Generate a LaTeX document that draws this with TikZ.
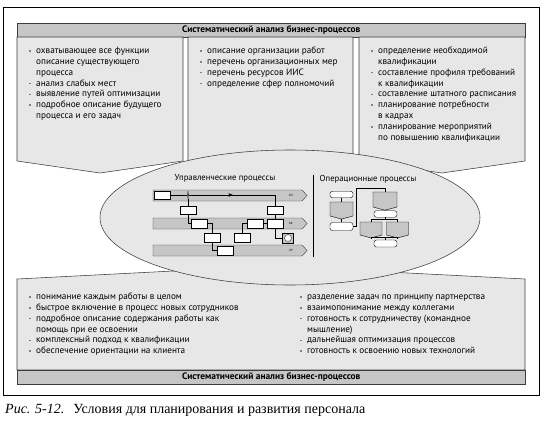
\documentclass[tikz,border=0pt]{standalone}
\usepackage{fontspec}
\setmainfont{PT Sans}
\newfontfamily\capfont{Liberation Serif}
\usepackage{xcolor}
\definecolor{colorBox}{RGB}{230,231,230}
\definecolor{colorBar}{RGB}{198,198,198}
\definecolor{colorLine}{RGB}{60,60,60}
\definecolor{colorBullet}{RGB}{130,130,130}
\usetikzlibrary{arrows, positioning, shapes.geometric, shapes.symbols, decorations.markings}
\newcommand{\bul}{\makebox[7pt][l]{\textcolor{colorBullet}{\rule[1.7pt]{1.7pt}{1.7pt}}}}
\newcommand{\ind}{\hspace*{7pt}}

\begin{document}
\begin{tikzpicture}[x=1pt, y=-1pt, >=stealth',
  panel/.style={draw=colorLine, fill=colorBox, line width=0.55pt},
  bar/.style={draw=colorLine, fill=colorBar, line width=0.55pt, inner sep=0pt, anchor=north west, font=\bfseries\fontsize{9.4}{10}\selectfont},
  coltext/.style={anchor=north west, inner sep=0pt, align=left, font=\fontsize{9.2}{10.9}\selectfont},
  title/.style={inner sep=0pt, font=\fontsize{8.7}{10}\selectfont},
  fbox/.style={draw=black, fill=white, line width=0.4pt, minimum width=16pt, minimum height=8.5pt, inner sep=0pt},
  term/.style={draw=black, fill=white, line width=0.4pt, rounded corners=2.5pt, minimum width=23pt, minimum height=6.5pt, inner sep=0pt},
  gbox/.style={signal, signal to=south, signal pointer angle=150, draw=black, fill=colorBar, line width=0.4pt, minimum width=23pt, minimum height=14pt, inner sep=0pt},
  flow/.style={line width=0.5pt},
  lanetext/.style={inner sep=0pt, font=\fontsize{3}{3}\selectfont}
]
\useasboundingbox (0,0) rectangle (545,425);
\draw[line width=0.8pt] (3,7.5) rectangle (539,395);

% top panels
\node[bar, minimum width=508pt, minimum height=14pt] (hdrTop) at (17,23) {Систематический анализ бизнес-процессов};
\draw[panel] (17,37) -- (183,37) -- (183,161) -- (100,173) -- (17,161) -- cycle;
\draw[panel] (188,37) -- (353,37) -- (353,161) -- (270,173) -- (188,161) -- cycle;
\draw[panel] (359,37) -- (525,37) -- (525,161) -- (442,173) -- (359,161) -- cycle;
\node[coltext] (txtA) at (29,45.5) {\strut\bul охватывающее все функции\\
  \ind описание существующего\\
  \ind процесса\\
  \bul анализ слабых мест\\
  \bul выявление путей оптимизации\\
  \bul подробное описание будущего\\
  \ind процесса и его задач};
\node[coltext] (txtB) at (200,45.5) {\strut\bul описание организации работ\\
  \bul перечень организационных мер\\
  \bul перечень ресурсов ИИС\\
  \bul определение сфер полномочий};
\node[coltext] (txtC) at (371,45.5) {\strut\bul определение необходимой\\
  \ind квалификации\\
  \bul составление профиля требований\\
  \ind к квалификации\\
  \bul составление штатного расписания\\
  \bul планирование потребности\\
  \ind в кадрах\\
  \bul планирование мероприятий\\
  \ind по повышению квалификации};

% bottom panel
\draw[panel] (17,279) -- (271,266) -- (525,279) -- (525,370) -- (17,370) -- cycle;
\node[bar, minimum width=508pt, minimum height=14pt] (hdrBot) at (17,370) {Систематический анализ бизнес-процессов};
\node[coltext] (txtD) at (29,291.5) {\strut\bul понимание каждым работы в целом\\
  \bul быстрое включение в процесс новых сотрудников\\
  \bul подробное описание содержания работы как\\
  \ind помощь при ее освоении\\
  \bul комплексный подход к квалификации\\
  \bul обеспечение ориентации на клиента};
\node[coltext] (txtE) at (300,291.5) {\strut\bul разделение задач по принципу партнерства\\
  \bul взаимопонимание между коллегами\\
  \bul готовность к сотрудничеству (командное\\
  \ind мышление)\\
  \bul дальнейшая оптимизация процессов\\
  \bul готовность к освоению новых технологий};

% processes
\node[ellipse, panel, minimum width=380pt, minimum height=135pt, inner sep=0pt] (proc) at (290,217.5) {};
\node[title] (mgmt) at (225,178) {Управленческие процессы};
\node[title] (oper) at (368,179) {Операционные процессы};
\draw[line width=0.6pt] (313,175) -- (313,257);

% lanes
\draw[panel, fill=colorBar, line width=0.4pt] (153,190) -- (302,190) -- (307,195.5) -- (302,201) -- (153,201) -- cycle;
\draw[panel, fill=colorBar, line width=0.4pt] (153,218) -- (302,218) -- (307,223.5) -- (302,229) -- (153,229) -- cycle;
\draw[panel, fill=colorBar, line width=0.4pt] (153,245) -- (302,245) -- (307,250.5) -- (302,256) -- (153,256) -- cycle;
\node[lanetext] (ln1) at (291,195.5) {ВЛ};
\node[lanetext] (ln2) at (291,223.5) {ВК};
\node[lanetext] (ln3) at (291,250.5) {ЛР};

\node[fbox] (a1) at (162,195) {};
\node[diamond, aspect=2, draw=black, fill=white, line width=0.4pt, minimum height=8.5pt, inner sep=0pt] (d1) at (188,195) {};
\node[fbox] (b1) at (188,210) {};
\node[fbox] (b2) at (275.5,210) {};
\node[fbox] (c1) at (199.5,223.5) {};
\node[fbox] (c2) at (255.5,223.5) {};
\node[fbox] (c3) at (275.5,223.5) {};
\node[draw=black, fill=colorBar, line width=0.4pt, minimum width=11pt, minimum height=10pt, inner sep=0pt] (e1) at (288,238) {};
\node[circle, draw=black, fill=white, line width=0.3pt, minimum size=7pt, inner sep=0pt] (e1c) at (e1) {};
\node[fbox] (m1) at (212.5,237.5) {};
\node[fbox] (m2) at (242.5,237.5) {};
\node[fbox] (l1) at (225.5,250.5) {};

\draw[flow] (a1) -- (d1);
\draw[flow, postaction={decorate}, decoration={markings, mark=at position 0.45 with {\arrow{stealth'}}}] (d1.east) -| (b2.north);
\draw[flow] (d1.south) -- (b1.north);
\draw[flow] (b1.south) |- (c1.west);
\draw[flow] (b2.south) -- (c3.north);
\draw[flow] (c2.east) -- (c3.west);
\draw[flow] (c3.south) |- (e1.west);
\draw[flow] (c1.east) -| (m1.north);
\draw[flow] (m2.north) |- (c2.west);
\draw[flow] (m1.south) |- (l1.west);

% operational flow
\node[term] (t1) at (341.5,194.5) {};
\node[gbox] (g1) at (341.5,209) {};
\node[term, minimum height=8pt] (t2) at (341.5,226.5) {};
\node[gbox, minimum width=24pt, minimum height=15pt] (g2) at (385,199.5) {};
\node[term] (t3) at (385.5,214) {};
\node[gbox, minimum width=22pt, minimum height=13pt] (g3) at (371,228.5) {};
\node[gbox, minimum width=22pt, minimum height=13pt] (g4) at (397.5,228.5) {};
\node[term, minimum height=7pt] (t4) at (385.5,243.5) {};
\coordinate (j1) at (356,188);
\coordinate (j2) at (385.5,219.5);
\coordinate (j3) at (385.5,237.5);

\draw[flow] (t1) -- (g1);
\draw[flow] (g1) -- (t2);
\draw[flow] (t2.east) -| (j1) -| (g2.north);
\draw[flow] (g2) -- (t3);
\draw[flow] (t3) -- (j2);
\draw[flow] (j2) -| (g3.north);
\draw[flow] (j2) -| (g4.north);
\draw[flow] (g3.south) |- (j3);
\draw[flow] (g4.south) |- (j3);
\draw[flow] (j3) -- (t4);

% caption
\node[anchor=base west, inner sep=0pt, font=\capfont\fontsize{14}{16}\selectfont] (cap) at (5,413) {\textit{Рис. 5-12.}\hspace{9pt}Условия для планирования и развития персонала};
\end{tikzpicture}
\end{document}
